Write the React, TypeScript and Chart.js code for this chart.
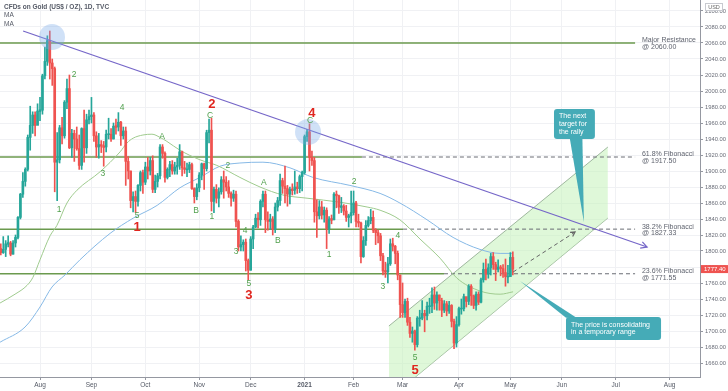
import React, { useEffect, useRef } from "react";
import { Chart, registerables } from "chart.js";

Chart.register(...registerables);

// ---------- DATA ----------
// index 0 = Aug 3 2020 (trading-day index), first candle = Jul 10 2020
const firstIndex = -16;

const opens = [
  1803, 1798, 1802, 1809, 1810, 1796, 1810, 1817, 1842, 1871, 1887, 1902, 1942, 1957, 1970, 1957,
  1975, 1976, 2019, 2037, 2063, 2035, 2028, 1911, 1914, 1954, 1944, 1986, 2003, 1929, 1947, 1940, 1928, 1907, 1953, 1929, 1964,
  1968, 1970, 1944, 1930, 1933, 1931, 1930, 1946, 1946, 1940, 1956, 1955, 1961, 1944, 1950, 1912, 1900, 1863, 1868, 1862, 1882, 1898,
  1886, 1905, 1900, 1913, 1877, 1887, 1894, 1930, 1922, 1892, 1902, 1908, 1900, 1905, 1907, 1924, 1904, 1902, 1902, 1908, 1878, 1868,
  1879, 1895, 1909, 1903, 1948, 1951, 1862, 1877, 1866, 1874, 1889, 1886, 1880, 1872, 1866, 1871, 1837, 1805, 1808, 1811, 1788,
  1776, 1815, 1830, 1841, 1839, 1862, 1871, 1839, 1837, 1840, 1827, 1855, 1863, 1888, 1881, 1878, 1871, 1877, 1876, 1880, 1878, 1893,
  1898, 1943, 1949, 1917, 1913, 1849, 1844, 1855, 1845, 1851, 1828, 1840, 1839, 1871, 1869, 1855, 1856, 1850, 1842, 1844,
  1848, 1860, 1837, 1835, 1793, 1813, 1832, 1838, 1842, 1826, 1823, 1819, 1794, 1775, 1774, 1784, 1809, 1806, 1797, 1770,
  1733, 1723, 1737, 1711, 1697, 1700, 1683, 1716, 1716, 1722, 1719, 1731, 1731, 1745, 1735, 1745, 1738, 1726, 1734, 1725, 1732, 1712, 1685,
  1708, 1728, 1728, 1743, 1737, 1756, 1744, 1732, 1746, 1736, 1764, 1777, 1771, 1779, 1793, 1783, 1777, 1780, 1778, 1773, 1768,
  1768, 1792,
];

const highs = [
  1809, 1818, 1813, 1819, 1812, 1813, 1820, 1843, 1872, 1898, 1904, 1945, 1981, 1974, 1974, 1984,
  1992, 2021, 2055, 2069, 2075, 2040, 2030, 1948, 1957, 1967, 1988, 2015, 2020, 1952, 1951, 1955, 1945, 1954, 1976, 1971, 1976,
  1992, 1973, 1949, 1947, 1938, 1937, 1951, 1966, 1953, 1960, 1965, 1973, 1962, 1955, 1955, 1918, 1900, 1874, 1875, 1883, 1900, 1901,
  1911, 1917, 1917, 1919, 1895, 1897, 1933, 1933, 1924, 1904, 1912, 1913, 1911, 1916, 1933, 1925, 1912, 1910, 1911, 1910, 1879, 1884,
  1898, 1910, 1910, 1951, 1965, 1966, 1880, 1883, 1879, 1893, 1900, 1893, 1888, 1874, 1876, 1875, 1839, 1819, 1814, 1815, 1790,
  1818, 1832, 1846, 1848, 1864, 1875, 1875, 1849, 1846, 1843, 1860, 1867, 1896, 1891, 1906, 1882, 1880, 1884, 1900, 1886, 1895, 1900,
  1945, 1952, 1959, 1925, 1917, 1864, 1863, 1862, 1855, 1854, 1843, 1845, 1873, 1875, 1870, 1867, 1858, 1857, 1846, 1875,
  1875, 1862, 1846, 1836, 1818, 1838, 1843, 1852, 1850, 1828, 1826, 1822, 1797, 1786, 1792, 1815, 1816, 1807, 1800, 1770,
  1760, 1740, 1741, 1717, 1705, 1701, 1718, 1726, 1738, 1726, 1736, 1741, 1754, 1755, 1749, 1745, 1741, 1738, 1737, 1737, 1733, 1715, 1718,
  1730, 1740, 1746, 1742, 1758, 1758, 1745, 1749, 1749, 1766, 1785, 1790, 1784, 1797, 1798, 1786, 1789, 1782, 1783, 1790, 1782,
  1798, 1799,
];

const lows = [
  1795, 1797, 1793, 1805, 1794, 1796, 1805, 1815, 1840, 1867, 1881, 1900, 1926, 1947, 1944, 1958,
  1963, 1971, 2015, 2032, 2015, 2007, 1874, 1863, 1910, 1934, 1941, 1978, 1928, 1917, 1912, 1926, 1902, 1902, 1911, 1922, 1959,
  1960, 1937, 1917, 1916, 1923, 1906, 1924, 1940, 1937, 1940, 1946, 1950, 1932, 1940, 1882, 1890, 1854, 1849, 1848, 1856, 1875, 1872,
  1883, 1890, 1895, 1873, 1873, 1880, 1890, 1916, 1886, 1890, 1893, 1896, 1896, 1896, 1902, 1894, 1897, 1893, 1898, 1877, 1860, 1864,
  1874, 1889, 1877, 1900, 1935, 1850, 1848, 1860, 1855, 1871, 1866, 1875, 1867, 1856, 1862, 1830, 1800, 1800, 1800, 1775, 1764,
  1776, 1803, 1829, 1829, 1832, 1855, 1823, 1826, 1827, 1820, 1823, 1850, 1857, 1872, 1860, 1856, 1859, 1870, 1871, 1872, 1873, 1875,
  1896, 1937, 1900, 1907, 1836, 1817, 1840, 1840, 1836, 1803, 1822, 1834, 1839, 1854, 1847, 1848, 1845, 1837, 1830, 1835,
  1845, 1830, 1830, 1785, 1792, 1807, 1830, 1834, 1823, 1808, 1810, 1788, 1770, 1767, 1760, 1782, 1800, 1784, 1764, 1717,
  1717, 1717, 1707, 1692, 1686, 1676, 1680, 1706, 1714, 1699, 1714, 1722, 1723, 1727, 1726, 1726, 1718, 1723, 1719, 1722, 1705, 1678, 1680,
  1706, 1721, 1725, 1730, 1733, 1732, 1728, 1726, 1733, 1735, 1761, 1764, 1766, 1770, 1777, 1763, 1774, 1769, 1767, 1756, 1760,
  1768, 1770,
];

const closes = [
  1798, 1802, 1809, 1810, 1796, 1810, 1817, 1842, 1871, 1887, 1902, 1942, 1957, 1970, 1957, 1975,
  1976, 2019, 2037, 2063, 2035, 2028, 1911, 1914, 1954, 1944, 1986, 2003, 1929, 1947, 1940, 1928, 1907, 1953, 1929, 1964, 1968,
  1970, 1944, 1930, 1933, 1931, 1930, 1946, 1946, 1940, 1956, 1955, 1961, 1944, 1950, 1912, 1900, 1863, 1868, 1862, 1882, 1898, 1886,
  1905, 1900, 1913, 1877, 1887, 1894, 1930, 1922, 1892, 1902, 1908, 1900, 1905, 1907, 1924, 1904, 1902, 1902, 1908, 1878, 1868, 1879,
  1895, 1909, 1903, 1948, 1951, 1862, 1877, 1866, 1874, 1889, 1886, 1880, 1872, 1866, 1871, 1837, 1805, 1808, 1811, 1788, 1776,
  1815, 1830, 1841, 1839, 1862, 1871, 1839, 1837, 1840, 1827, 1855, 1863, 1888, 1881, 1878, 1871, 1877, 1876, 1880, 1878, 1893, 1898,
  1943, 1949, 1917, 1913, 1849, 1844, 1855, 1845, 1851, 1828, 1840, 1839, 1871, 1869, 1855, 1856, 1850, 1842, 1844, 1848,
  1860, 1837, 1835, 1793, 1813, 1832, 1838, 1842, 1826, 1823, 1819, 1794, 1775, 1774, 1784, 1809, 1806, 1797, 1770, 1733,
  1723, 1737, 1711, 1697, 1700, 1683, 1716, 1716, 1722, 1719, 1731, 1731, 1745, 1735, 1745, 1738, 1726, 1734, 1725, 1732, 1712, 1685, 1708,
  1728, 1728, 1743, 1737, 1756, 1744, 1732, 1746, 1736, 1764, 1777, 1771, 1779, 1793, 1783, 1777, 1780, 1778, 1773, 1768, 1768,
  1792, 1777.4,
];

const monthTicks = [0, 21, 43, 65, 86, 108, 128, 148, 171, 192, 213, 235, 257];
const monthLabels = ["Aug", "Sep", "Oct", "Nov", "Dec", "2021", "Feb", "Mar", "Apr", "May", "Jun", "Jul", "Aug"];
const priceTicks = [1660, 1680, 1700, 1720, 1740, 1760, 1780, 1800, 1820, 1840, 1860, 1880, 1900, 1920, 1940, 1960, 1980, 2000, 2020, 2040, 2060, 2080, 2100];

const maGreen: [number, number][] = [
  [-16.3, 1735], [-10.2, 1746], [-5.3, 1757], [-2.9, 1767], [0, 1789], [4.1, 1819], [6.9, 1832], [11, 1860],
  [15.1, 1876], [24.5, 1899], [32.7, 1924], [35.5, 1935], [38, 1941], [42, 1945], [45.7, 1946], [49, 1942],
  [51.8, 1937], [57.1, 1926], [65.3, 1914], [72.2, 1907], [81.6, 1892], [89.8, 1880], [99.2, 1870], [109, 1866],
  [122.4, 1861], [133.5, 1855], [138.8, 1851], [146.9, 1839], [155.1, 1815], [163.3, 1791], [170.2, 1766],
  [179.6, 1750], [187.8, 1746], [193.1, 1749],
];
const maBlue: [number, number][] = [
  [-16.3, 1686], [-6.1, 1705], [0, 1730], [4.9, 1755], [10.2, 1770], [16.3, 1789], [28.6, 1822], [38, 1841],
  [47.8, 1857], [57.1, 1879], [65.3, 1892], [73.5, 1906], [81.6, 1910], [91, 1911], [102, 1904], [111.4, 1892],
  [126.5, 1882], [138.8, 1872], [146.9, 1860], [158, 1839], [168.6, 1817], [179.6, 1802], [187.8, 1797], [193.1, 1797],
];

const levelPrices = [2060, 1917.5, 1827.33, 1771.55];
const levelSolidEnd = [242.9, 131.4, 148.2, 164.9];
const levelEnd = 242.9;
const levelTitles = ["Major Resistance", "61.8% Fibonacci", "38.2% Fibonacci", "23.6% Fibonacci"];
const levelValues = ["@ 2060.00", "@ 1917.50", "@ 1827.33", "@ 1771.55"];
const levelLabelX = 245.7;

const trendLine: [number, number][] = [[-6.9, 2075], [247.8, 1805]];
const channelUpper: [number, number][] = [[142.4, 1706.25], [231.8, 1930]];
const channelLower: [number, number][] = [[142.4, 1615], [231.8, 1841.25]];
const projection: [number, number][] = [[193.1, 1773.7], [218.4, 1823.7]];
const circles: [number, number][] = [[4.9, 2067.5], [109.4, 1948.75]];

// [text, index, price, red?]
const waveLabels: [string, number, number, boolean][] = [
  ["2", 13.9, 2020, false], ["4", 33.5, 1978.75, false], ["2", 70.2, 1983.5, true], ["C", 69.4, 1968.75, false],
  ["4", 111.0, 1972.5, true], ["C", 110.2, 1962.5, false], ["A", 49.8, 1942.5, false], ["3", 25.7, 1896.25, false],
  ["1", 7.8, 1851.25, false], ["5", 39.6, 1843.75, false], ["1", 39.6, 1830, true], ["B", 63.7, 1850, false],
  ["1", 70.2, 1842.5, false], ["2", 76.7, 1906.25, false], ["3", 80.0, 1798.75, false], ["A", 91.4, 1885, false],
  ["4", 83.7, 1825, false], ["B", 97.1, 1812.5, false], ["2", 128.2, 1886.25, false], ["1", 118.0, 1795, false],
  ["4", 146.1, 1818.75, false], ["5", 85.3, 1758.75, false], ["3", 85.3, 1745, true], ["3", 140.0, 1755, false],
  ["5", 153.1, 1666.25, false], ["5", 153.1, 1651.25, true],
];

const calloutTarget = { text: ["The next", "target for", "the rally"], box: [209.8, 1977.5, 226.5, 1940], tail: [[216.3, 1940], [221.4, 1940], [222.0, 1836.25]] };
const calloutRange = { text: ["The price is consolidating", "in a temporary range"], box: [214.7, 1717.5, 253.5, 1688.75], tail: [[214.7, 1716.5], [219.0, 1716.5], [195.9, 1762.5]] };

const lastPrice = 1777.4;

// ---------- STYLE ----------
const FONT = "'Liberation Sans', Arial, sans-serif";
const UP = "#26a69a";
const DOWN = "#ef5350";
const LEVEL_GREEN = "#6b9a4e";
const PURPLE = "#7566c8";
const TEAL = "#45abb7";

function chevron(ctx: CanvasRenderingContext2D, x1: number, y1: number, x2: number, y2: number, color: string, size: number) {
  const a = Math.atan2(y2 - y1, x2 - x1);
  ctx.save();
  ctx.strokeStyle = color;
  ctx.lineWidth = 1.2;
  ctx.setLineDash([]);
  ctx.beginPath();
  ctx.moveTo(x2 - size * Math.cos(a - 0.5), y2 - size * Math.sin(a - 0.5));
  ctx.lineTo(x2, y2);
  ctx.lineTo(x2 - size * Math.cos(a + 0.5), y2 - size * Math.sin(a + 0.5));
  ctx.stroke();
  ctx.restore();
}

const overlayPlugin = {
  id: "overlay",
  afterDatasetsDraw(chart: any) {
    const ctx: CanvasRenderingContext2D = chart.ctx;
    const X = (v: number) => chart.scales.x.getPixelForValue(v);
    const Y = (v: number) => chart.scales.y.getPixelForValue(v);
    ctx.save();
    chevron(ctx, X(trendLine[0][0]), Y(trendLine[0][1]), X(trendLine[1][0]), Y(trendLine[1][1]), PURPLE, 7);
    chevron(ctx, X(projection[0][0]), Y(projection[0][1]), X(projection[1][0]), Y(projection[1][1]), "#666", 5);

    // level labels
    ctx.font = `7px ${FONT}`;
    ctx.fillStyle = "#5f636e";
    ctx.textAlign = "left";
    ctx.textBaseline = "middle";
    levelPrices.forEach((p, i) => {
      const y = Y(p);
      ctx.fillText(levelTitles[i], X(levelLabelX), y - 2.5);
      ctx.fillText(levelValues[i], X(levelLabelX), y + 4.2);
    });

    // wave labels
    ctx.textAlign = "center";
    waveLabels.forEach(([t, xi, p, red]) => {
      ctx.font = red ? `bold 13px ${FONT}` : `8.5px ${FONT}`;
      ctx.fillStyle = red ? "#e0261f" : "#4f9f4b";
      ctx.fillText(t, X(xi), Y(p));
    });

    // callouts
    [calloutTarget, calloutRange].forEach((c) => {
      const [bx1, by1, bx2, by2] = c.box;
      const x1 = X(bx1), y1 = Y(by1), x2 = X(bx2), y2 = Y(by2);
      ctx.fillStyle = TEAL;
      ctx.beginPath();
      ctx.moveTo(X(c.tail[0][0]), Y(c.tail[0][1]));
      ctx.lineTo(X(c.tail[1][0]), Y(c.tail[1][1]));
      ctx.lineTo(X(c.tail[2][0]), Y(c.tail[2][1]));
      ctx.closePath();
      ctx.fill();
      ctx.beginPath();
      (ctx as any).roundRect(x1, y1, x2 - x1, y2 - y1, 3);
      ctx.fill();
      ctx.fillStyle = "#ffffff";
      ctx.font = `7px ${FONT}`;
      ctx.textAlign = "left";
      ctx.textBaseline = "middle";
      const lh = c.text.length === 3 ? 7.6 : 7.4;
      const startY = y1 + (y2 - y1) / 2 - ((c.text.length - 1) * lh) / 2;
      c.text.forEach((t, i) => ctx.fillText(t, x1 + 5, startY + i * lh));
    });
    ctx.restore();
  },
  afterDraw(chart: any) {
    const ctx: CanvasRenderingContext2D = chart.ctx;
    const Y = (v: number) => chart.scales.y.getPixelForValue(v);
    const area = chart.chartArea;
    ctx.save();
    // title
    ctx.textAlign = "left";
    ctx.textBaseline = "middle";
    ctx.fillStyle = "#555a66";
    ctx.font = `bold 6.5px ${FONT}`;
    ctx.fillText("CFDs on Gold (US$ / OZ), 1D, TVC", 4, 7);
    ctx.font = `6.5px ${FONT}`;
    ctx.fillText("MA", 4, 15.5);
    ctx.fillText("MA", 4, 24);
    // USD badge
    ctx.fillStyle = "#ffffff";
    ctx.fillRect(area.right + 5, 3, 18, 8);
    ctx.strokeStyle = "#c8cad0";
    ctx.lineWidth = 1;
    ctx.strokeRect(area.right + 5.5, 3.5, 17, 7);
    ctx.fillStyle = "#666";
    ctx.font = `5.5px ${FONT}`;
    ctx.textAlign = "center";
    ctx.fillText("USD", area.right + 14, 7.5);
    // last price tag
    const py = Y(lastPrice);
    ctx.fillStyle = DOWN;
    ctx.fillRect(area.right + 1, py - 4, 27, 8);
    ctx.fillStyle = "#ffffff";
    ctx.textAlign = "left";
    ctx.font = `6px ${FONT}`;
    ctx.fillText(lastPrice.toFixed(2), area.right + 4, py + 0.5);
    ctx.restore();
  },
};

export default function App() {
  const ref = useRef<HTMLCanvasElement>(null);

  useEffect(() => {
    document.body.style.margin = "0";
    const canvas = ref.current;
    if (!canvas) return;

    const idx = closes.map((_, i) => firstIndex + i);
    const candleColors = closes.map((c, i) => (c >= opens[i] ? UP : DOWN));
    const wickData = idx.map((x, i) => ({ x, y: [lows[i], highs[i]] }));
    const bodyData = idx.map((x, i) => {
      const lo = Math.min(opens[i], closes[i]);
      const hi = Math.max(opens[i], closes[i]);
      return { x, y: hi - lo < 1.2 ? [lo - 0.6, hi + 0.6] : [lo, hi] };
    });
    const pts = (arr: [number, number][]) => arr.map(([x, y]) => ({ x, y }));

    const levelDatasets: any[] = [];
    levelPrices.forEach((p, i) => {
      levelDatasets.push({
        type: "line",
        data: [{ x: -20, y: p }, { x: levelSolidEnd[i], y: p }],
        borderColor: LEVEL_GREEN,
        borderWidth: 1.5,
        pointRadius: 0,
        order: 8,
      });
      if (levelSolidEnd[i] < levelEnd) {
        levelDatasets.push({
          type: "line",
          data: [{ x: levelSolidEnd[i], y: p }, { x: levelEnd, y: p }],
          borderColor: "#6a6d74",
          borderWidth: 1,
          borderDash: [4, 3],
          pointRadius: 0,
          order: 8,
        });
      }
    });

    const chart = new Chart(canvas, {
      type: "line",
      data: {
        datasets: [
          {
            type: "line",
            data: pts(channelUpper),
            borderColor: "#8aa68a",
            borderWidth: 0.8,
            pointRadius: 0,
            fill: "+1",
            backgroundColor: "rgba(196, 242, 186, 0.55)",
            order: 10,
          },
          {
            type: "line",
            data: pts(channelLower),
            borderColor: "#8aa68a",
            borderWidth: 0.8,
            pointRadius: 0,
            fill: false,
            order: 10,
          },
          ...levelDatasets,
          {
            type: "line",
            data: pts(maGreen),
            borderColor: "#9fcb8e",
            borderWidth: 1,
            pointRadius: 0,
            cubicInterpolationMode: "monotone",
            order: 7,
          },
          {
            type: "line",
            data: pts(maBlue),
            borderColor: "#86b9e6",
            borderWidth: 1,
            pointRadius: 0,
            cubicInterpolationMode: "monotone",
            order: 7,
          },
          {
            type: "bar",
            data: wickData as any,
            backgroundColor: candleColors,
            barThickness: 1,
            grouped: false,
            borderWidth: 0,
            order: 5,
          },
          {
            type: "bar",
            data: bodyData as any,
            backgroundColor: candleColors,
            barThickness: 2,
            grouped: false,
            borderWidth: 0,
            order: 4,
          },
          {
            type: "line",
            data: pts(trendLine),
            borderColor: PURPLE,
            borderWidth: 1.3,
            pointRadius: 0,
            order: 3,
          },
          {
            type: "line",
            data: pts(projection),
            borderColor: "#666",
            borderWidth: 1,
            borderDash: [4, 3],
            pointRadius: 0,
            order: 3,
          },
          {
            type: "bubble",
            data: circles.map(([x, y]) => ({ x, y, r: 13 })),
            backgroundColor: "rgba(120, 170, 232, 0.35)",
            borderWidth: 0,
            order: 2,
          },
        ] as any,
      },
      options: {
        animation: false,
        responsive: false,
        devicePixelRatio: 1,
        events: [],
        layout: { padding: 0, autoPadding: false },
        plugins: { legend: { display: false }, tooltip: { enabled: false } },
        scales: {
          x: {
            type: "linear",
            min: -16.33,
            max: 269.4,
            offset: false,
            afterBuildTicks: (s: any) => {
              s.ticks = monthTicks.map((v) => ({ value: v }));
            },
            afterFit: (s: any) => {
              s.height = 14;
              s.paddingLeft = 0;
              s.paddingRight = 0;
            },
            ticks: {
              autoSkip: false,
              maxRotation: 0,
              padding: 1,
              color: "#555a66",
              font: (c: any) => ({
                size: 6.5,
                family: FONT,
                weight: c.tick && c.tick.value === 108 ? "bold" : "normal",
              }),
              callback: (v: any) => {
                const k = monthTicks.indexOf(Number(v));
                return k >= 0 ? monthLabels[k] : "";
              },
            },
            grid: { color: "#f0f1f4", offset: false, tickLength: 3, tickColor: "#9598a1" },
            border: { color: "#9598a1" },
          },
          y: {
            type: "linear",
            position: "right",
            min: 1642.5,
            max: 2113.75,
            beginAtZero: false,
            afterBuildTicks: (s: any) => {
              s.ticks = priceTicks.map((v) => ({ value: v }));
            },
            afterFit: (s: any) => {
              s.width = 28;
              s.paddingTop = 0;
              s.paddingBottom = 0;
            },
            ticks: {
              padding: 2,
              color: "#6a6d78",
              font: { size: 5.8, family: FONT },
              callback: (v: any) => Number(v).toFixed(2),
            },
            grid: { color: "#f0f1f4", tickLength: 3, tickColor: "#9598a1" },
            border: { color: "#9598a1" },
          },
        },
      } as any,
      plugins: [overlayPlugin as any],
    });

    return () => chart.destroy();
  }, []);

  return (
    <div style={{ width: 728, height: 391, background: "#ffffff" }}>
      <canvas ref={ref} width={728} height={391} style={{ display: "block" }} />
    </div>
  );
}
